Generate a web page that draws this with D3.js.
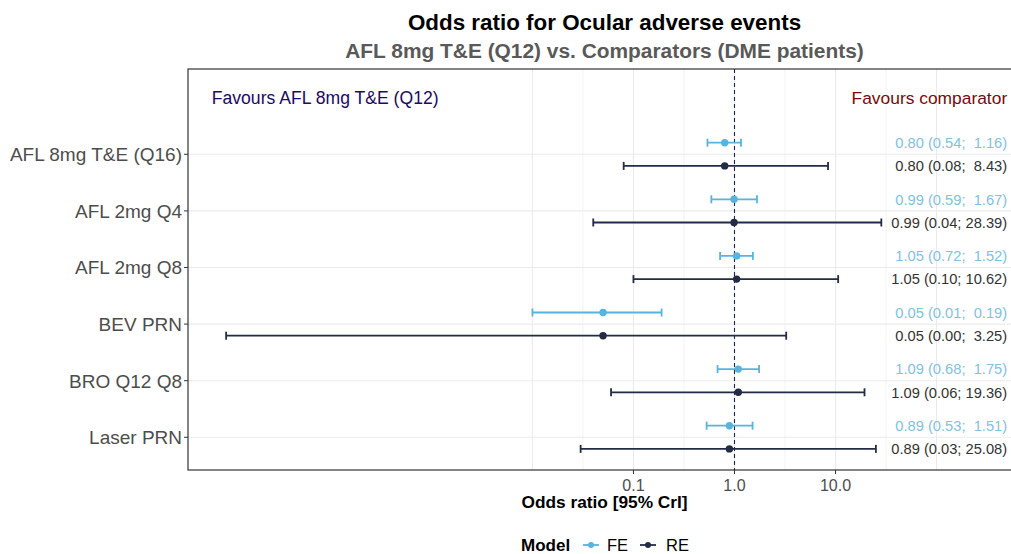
<!DOCTYPE html>
<html>
<head>
<meta charset="utf-8">
<script src="https://cdn.jsdelivr.net/npm/d3@7"></script>
<style>
  html, body { margin: 0; padding: 0; background: #fff; }
  svg { display: block; font-family: "Liberation Sans", Arial, sans-serif; }
</style>
</head>
<body>
<svg id="chart" width="1011" height="554"></svg>
<script>
// ---------- data ----------
const categories = ["AFL 8mg T&E (Q16)", "AFL 2mg Q4", "AFL 2mg Q8", "BEV PRN", "BRO Q12 Q8", "Laser PRN"];
const feMean = [0.80, 0.99, 1.05, 0.05, 1.09, 0.89];
const feLow  = [0.54, 0.59, 0.72, 0.01, 0.68, 0.53];
const feHigh = [1.16, 1.67, 1.52, 0.19, 1.75, 1.51];
const reMean = [0.80, 0.99, 1.05, 0.05, 1.09, 0.89];
const reLow  = [0.08, 0.04, 0.10, 0.0000093, 0.06, 0.03];
const reHigh = [8.43, 28.39, 10.62, 3.25, 19.36, 25.08];
const models = ["FE", "RE"];
const xTickValues = [0.1, 1, 10];
const xTickLabels = ["0.1", "1.0", "10.0"];
const xGridValues = [0.01, 0.0316, 0.1, 0.316, 1, 3.16, 10, 31.6, 100];
const titleText = "Odds ratio for Ocular adverse events";
const subtitleText = "AFL 8mg T&E (Q12) vs. Comparators (DME patients)";
const xTitle = "Odds ratio [95% CrI]";
const favoursLeft = "Favours AFL 8mg T&E (Q12)";
const favoursRight = "Favours comparator";

// ---------- layout ----------
const panel = { left: 188, right: 1021, top: 69, bottom: 470 };
const colFE = "#56b4e0", colRE = "#232b45";
const colFEText = "#80c2e2", colRETextCol = "#333333";

const svg = d3.select("#chart");
const x = d3.scaleLog().domain([3.9e-6, 685]).range([panel.left, panel.right]);
const y = d3.scaleLinear().domain([-1.507, 5.578]).range([panel.top, panel.bottom]);
const dodge = { FE: -0.205, RE: 0.205 };

const series = categories.map((c, i) => ({
  cat: c, i,
  FE: { m: feMean[i], l: feLow[i], h: feHigh[i] },
  RE: { m: reMean[i], l: reLow[i], h: reHigh[i] }
}));

svg.append("defs").append("clipPath").attr("id", "clip")
  .append("rect").attr("x", panel.left).attr("y", panel.top)
  .attr("width", panel.right - panel.left).attr("height", panel.bottom - panel.top);

const g = svg.append("g").attr("clip-path", "url(#clip)");

// gridlines
g.selectAll("line.vgrid").data(xGridValues).join("line")
  .attr("x1", d => x(d)).attr("x2", d => x(d))
  .attr("y1", panel.top).attr("y2", panel.bottom)
  .attr("stroke", "#ebebeb").attr("stroke-width", (d, i) => i % 2 === 0 ? 1.1 : 0.6);
g.selectAll("line.hgrid").data(categories).join("line")
  .attr("x1", panel.left).attr("x2", panel.right)
  .attr("y1", (d, i) => y(i)).attr("y2", (d, i) => y(i))
  .attr("stroke", "#ebebeb").attr("stroke-width", 1.1);

// reference line at 1
g.append("line")
  .attr("x1", x(1)).attr("x2", x(1))
  .attr("y1", panel.top).attr("y2", panel.bottom)
  .attr("stroke", "#1c2266").attr("stroke-width", 1.1)
  .attr("stroke-dasharray", "4,3");

// error bars & points
models.forEach(mod => {
  const col = mod === "FE" ? colFE : colRE;
  const grp = g.append("g");
  series.forEach(s => {
    const d = s[mod];
    const yy = y(s.i + dodge[mod]);
    grp.append("line").attr("x1", x(d.l)).attr("x2", x(d.h))
      .attr("y1", yy).attr("y2", yy).attr("stroke", col).attr("stroke-width", 1.8);
    [d.l, d.h].forEach(v => {
      grp.append("line").attr("x1", x(v)).attr("x2", x(v))
        .attr("y1", yy - 4).attr("y2", yy + 4).attr("stroke", col).attr("stroke-width", 1.8);
    });
    grp.append("circle").attr("cx", x(d.m)).attr("cy", yy).attr("r", 3.7).attr("fill", col);
  });
});

// value labels
const fmt = d => d.toFixed(2);
models.forEach(mod => {
  series.forEach(s => {
    const d = s[mod];
    const txt = `${fmt(d.m)} (${fmt(d.l)}; ${fmt(d.h).padStart(5, "\u00A0")})`;
    svg.append("text")
      .attr("x", x(500)).attr("y", y(s.i + dodge[mod]))
      .attr("dy", "0.36em").attr("text-anchor", "end")
      .attr("font-size", 14.7)
      .attr("fill", mod === "FE" ? colFEText : colRETextCol)
      .text(txt);
  });
});

// favours texts
svg.append("text").attr("x", x(6.7e-6)).attr("y", y(-1)).attr("dy", "0.36em")
  .attr("font-size", 17.6).attr("fill", "#1b0a66").text(favoursLeft);
svg.append("text").attr("x", x(500)).attr("y", y(-1)).attr("dy", "0.36em")
  .attr("text-anchor", "end").attr("font-size", 17.4).attr("fill", "#7a0a0a").text(favoursRight);

// panel border
svg.append("rect").attr("x", panel.left).attr("y", panel.top)
  .attr("width", panel.right - panel.left).attr("height", panel.bottom - panel.top)
  .attr("fill", "none").attr("stroke", "#333333").attr("stroke-width", 1.2);

// y axis
const yAxis = svg.append("g");
categories.forEach((c, i) => {
  yAxis.append("line").attr("x1", panel.left - 4).attr("x2", panel.left)
    .attr("y1", y(i)).attr("y2", y(i)).attr("stroke", "#333").attr("stroke-width", 1);
  yAxis.append("text").attr("x", panel.left - 6).attr("y", y(i)).attr("dy", "0.36em")
    .attr("text-anchor", "end").attr("font-size", 19).attr("fill", "#4d4d4d").text(c);
});

// x axis
const xAxis = svg.append("g");
xTickValues.forEach((v, i) => {
  xAxis.append("line").attr("x1", x(v)).attr("x2", x(v))
    .attr("y1", panel.bottom).attr("y2", panel.bottom + 4).attr("stroke", "#333").attr("stroke-width", 1);
  xAxis.append("text").attr("x", x(v)).attr("y", panel.bottom + 21)
    .attr("text-anchor", "middle").attr("font-size", 16).attr("fill", "#4d4d4d").text(xTickLabels[i]);
});

const cx = (panel.left + panel.right) / 2;
svg.append("text").attr("x", cx).attr("y", 508).attr("text-anchor", "middle")
  .attr("font-size", 17.3).attr("font-weight", "bold").attr("fill", "#000").text(xTitle);

// titles
svg.append("text").attr("x", cx).attr("y", 30).attr("text-anchor", "middle")
  .attr("font-size", 22.4).attr("font-weight", "bold").attr("fill", "#000").text(titleText);
svg.append("text").attr("x", cx).attr("y", 58).attr("text-anchor", "middle")
  .attr("font-size", 20.9).attr("font-weight", "bold").attr("fill", "#595959").text(subtitleText);

// legend
const leg = svg.append("g");
const legY = 545;
const legItems = [{ k: "FE", c: colFE, kx: 583, tx: 607 }, { k: "RE", c: colRE, kx: 640, tx: 666 }];
leg.append("text").attr("x", 521).attr("y", legY).attr("dy", "0.36em")
  .attr("font-size", 17).attr("font-weight", "bold").attr("fill", "#000").text("Model");
legItems.forEach(it => {
  leg.append("line").attr("x1", it.kx).attr("x2", it.kx + 16).attr("y1", legY).attr("y2", legY)
    .attr("stroke", it.c).attr("stroke-width", 1.8);
  leg.append("circle").attr("cx", it.kx + 8).attr("cy", legY).attr("r", 3).attr("fill", it.c);
  leg.append("text").attr("x", it.tx).attr("y", legY).attr("dy", "0.36em")
    .attr("font-size", 16.5).attr("fill", "#000").text(it.k);
});
</script>
</body>
</html>
